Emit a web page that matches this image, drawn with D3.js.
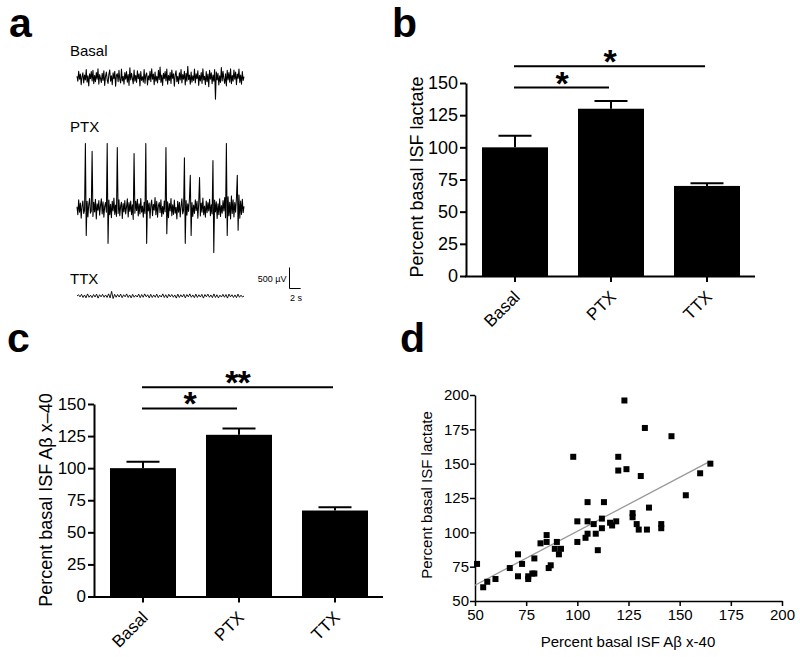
<!DOCTYPE html>
<html>
<head>
<meta charset="utf-8">
<script src="https://cdn.jsdelivr.net/npm/d3@7"></script>
<style>
  body { margin: 0; background: #fff; }
  svg { display: block; }
  text { font-family: "Liberation Sans", Arial, sans-serif; fill: #000; }
</style>
</head>
<body>
<svg id="fig" width="800" height="657"></svg>
<script>
// ---- data ----
const categories = ['Basal', 'PTX', 'TTX'];
const lactateMean = [100, 130, 70];
const lactateSem = [9, 6, 2];
const abetaMean = [100, 126, 67];
const abetaSem = [5, 5, 2.5];
const barTicks = [0, 25, 50, 75, 100, 125, 150];

// significance brackets: all vs Basal
const sigTargets = ['PTX', 'TTX'];
const sigLabelsB = ['*', '*'];
const sigLabelsC = ['*', '**'];

const scatterTicks = [50, 75, 100, 125, 150, 175, 200];
const scatterAbeta = [51,54,56,60,67,71,71,73,76,76,78,79,79,82,85,85,86,87,89,90,91,92,98,100,100,
  104,105,105,105,108,109,110,112,112,113,116,117,119,120,120,123,124,127,127,129,130,131,133,134,135,
  141,141,146,153,160,165];
const scatterLactate = [77,60,64,66,74,84,68,77,66,68,70,81,70,92,98,93,74,76,88,93,84,88,155,93,108,
  96,108,99,122,106,99,87,110,103,122,107,105,108,155,145,196,146,114,111,106,102,141,176,102,118,
  106,103,170,127,143,150];
const fitX = [50, 165];
const fitY = [61.5, 151.8];

// field potential traces, microvolts, evenly sampled over traceSeconds
const traceSeconds = 30;
const basalTrace = [
  30,-90,150,-40,80,-170,20,110,-130,60,
  -60,190,-110,40,-200,90,-30,140,-80,170,
  -150,50,-100,120,-40,210,-160,70,-20,-120,
  100,-70,160,-190,30,130,-60,-140,80,180,
  -90,40,-170,110,-30,150,-210,60,90,-100,
  170,-50,-130,200,-80,30,-160,120,-40,140,
  -110,70,-190,230,-60,100,-20,-150,180,-90,
  50,-120,160,-30,90,-200,140,-70,20,-110,
  190,-140,60,110,-180,40,-60,150,-100,210,
  -40,80,-170,130,-90,30,-130,170,-50,250,
  -120,60,-190,100,-30,140,-80,200,-160,50,
  -70,120,-140,180,-20,90,-210,60,160,-100,
  30,-150,110,-60,190,-130,70,-40,150,-180,
  100,-90,270,-50,60,-160,130,-110,40,-70,
  200,-130,90,-30,160,-190,50,-80,120,-140,
  210,-60,30,-170,140,-100,80,-220,170,-40,
  110,-150,60,-90,190,-520,130,-60,100,-180,
  40,-120,240,-80,150,-30,-140,90,-200,170,
  -60,120,-110,210,-150,50,-90,180,-40,130,
  -170,80,-20,200,-120,60,-160,140,-70,20];
const ptxTrace = [
  40,-150,210,-90,130,-230,60,180,-120,-40,
  1550,-640,170,-200,90,240,-110,-60,1360,-190,
  150,-80,220,-250,110,-40,190,-160,70,230,
  -130,160,-210,50,140,-90,1550,-830,200,-150,
  100,-220,170,-60,250,-140,80,-190,1450,-120,
  210,-170,60,150,-240,120,-80,190,-130,40,
  230,-200,140,-70,180,-150,90,-260,1310,-110,
  170,-50,220,-180,110,-130,240,-90,60,-210,
  150,-120,1550,-830,190,-60,130,-230,80,200,
  -170,100,-40,260,-150,170,-210,70,140,-100,
  210,-190,50,-130,180,-80,1450,-600,160,-220,
  120,-60,240,-170,90,-140,200,-110,30,-250,
  170,-90,150,-200,60,230,-130,-40,1210,-830,
  190,-160,110,-70,240,790,-640,140,-190,80,
  -120,210,-50,170,-230,100,740,-180,130,-90,
  250,-150,60,-210,180,-100,140,-60,220,-170,
  90,-130,1140,-1050,200,-80,160,-240,110,-150,
  230,-190,70,-110,190,-60,260,-220,1550,-640,
  280,-170,150,-250,300,-120,210,-200,140,-90,
  250,790,-520,320,-230,180,-140,220,-100,50];
const ttxTrace = [
  0,30,-20,40,-35,25,-45,50,-30,20,
  -40,35,-25,45,-50,30,-20,40,-30,25,
  -35,50,-45,110,-60,40,-30,35,-25,45,
  -40,30,-20,50,-35,25,-45,40,-30,20,
  -25,45,-40,35,-30,50,-20,30,-45,40,
  -35,25,-30,45,-40,20,-25,50,-35,30,
  -45,40,-20,35,-30,25,-50,45,-35,30,
  -25,40,-45,35,-20,50,-30,25,-40,45,
  -35,30,-25,40,-50,35,-20,45,-30,25,
  -40,50,-35,30,-45,20,-25,40,-30,35,
  -50,45,-20,30,-35,25,-40,45,-30,20,
  -25,0];
const traceNames = ['Basal', 'PTX', 'TTX'];

// ---- drawing ----
const svg = d3.select('#fig');
const FONT = '"Liberation Sans", Arial, sans-serif';

function panelLetter(txt, x, y) {
  svg.append('text').attr('x', x).attr('y', y)
    .attr('font-size', 41).attr('font-weight', 'bold').text(txt);
}

// panel a: traces
panelLetter('a', 9, 37);
const tScale = d3.scaleLinear().domain([0, traceSeconds]).range([77, 244]);
const uv = d3.scaleLinear().domain([0, 500]).range([0, 21]);
const traceCenters = [77.5, 208.5, 296];
const traceLabelY = [56, 131.5, 284];
[basalTrace, ptxTrace, ttxTrace].forEach((tr, k) => {
  const n = tr.length;
  const line = d3.line()
    .x((d, i) => tScale(i * traceSeconds / (n - 1)))
    .y(d => traceCenters[k] - uv(d));
  svg.append('path').datum(tr)
    .attr('d', line)
    .attr('fill', 'none')
    .attr('stroke', '#000')
    .attr('stroke-width', k === 2 ? 0.9 : 1.05)
    .attr('stroke-linejoin', 'round');
  svg.append('text').attr('x', 70).attr('y', traceLabelY[k])
    .attr('font-size', 15).text(traceNames[k]);
});
// scale bar 500 uV / 2 s
const sbX = 289.5, sbY = 288.5;
svg.append('path')
  .attr('d', `M${sbX},${sbY - uv(500)}V${sbY}H${sbX + tScale(2) - tScale(0)}`)
  .attr('fill', 'none').attr('stroke', '#000').attr('stroke-width', 1);
svg.append('text').attr('x', sbX - 3).attr('y', 281.5).attr('text-anchor', 'end')
  .attr('font-size', 9).text('500 \u00b5V');
svg.append('text').attr('x', sbX + 0.5).attr('y', 300.5)
  .attr('font-size', 9).text('2 s');

// bar chart helper
function barChart(opt) {
  const g = svg.append('g');
  const x = d3.scaleBand().domain(categories)
    .range([opt.x0 + 1, opt.x0 + 1 + 288])
    .paddingInner(0.3125).paddingOuter(0.15625);
  const y = d3.scaleLinear().domain([0, 150]).range([opt.y0, opt.y150]);

  g.selectAll('rect.bar').data(categories).enter().append('rect')
    .attr('x', d => x(d))
    .attr('y', (d, i) => y(opt.mean[i]))
    .attr('width', x.bandwidth())
    .attr('height', (d, i) => y(0) - y(opt.mean[i]))
    .attr('fill', '#000');

  // error bars (upper only)
  const cx = d => x(d) + x.bandwidth() / 2;
  g.selectAll('path.err').data(categories).enter().append('path')
    .attr('d', (d, i) => {
      const top = y(opt.mean[i] + opt.sem[i]);
      return `M${cx(d)},${y(opt.mean[i])}V${top}M${cx(d) - 16.5},${top}H${cx(d) + 16.5}`;
    })
    .attr('stroke', '#000').attr('stroke-width', 2).attr('fill', 'none');

  const yAxis = d3.axisLeft(y).tickValues(barTicks).tickSize(6).tickSizeOuter(0).tickPadding(2);
  const ya = g.append('g').attr('transform', `translate(${opt.x0},0)`).call(yAxis);
  ya.selectAll('text').attr('font-size', opt.tickFont).attr('font-family', FONT).attr('fill', '#000');

  const xAxis = d3.axisBottom(x).tickSize(6).tickSizeOuter(0).tickFormat('');
  const xa = g.append('g').attr('transform', `translate(0,${opt.y0})`).call(xAxis);
  [ya, xa].forEach(a => {
    a.select('.domain').attr('stroke', '#000').attr('stroke-width', 2);
    a.selectAll('line').attr('stroke', '#000').attr('stroke-width', 2);
  });
  xa.select('.domain').attr('d', `M${opt.x0 - 1},0.5H${opt.x0 + 289}`);

  // rotated category labels
  g.selectAll('text.cat').data(categories).enter().append('text')
    .attr('text-anchor', 'end')
    .attr('font-size', 17)
    .attr('transform', d => `translate(${cx(d) + 6},${opt.y0 + 22}) rotate(-45)`)
    .text(d => d);

  // y title
  g.append('text')
    .attr('transform', `translate(${opt.titleX},${opt.titleY}) rotate(-90)`)
    .attr('text-anchor', 'middle').attr('font-size', 18)
    .text(opt.title);

  // significance brackets
  const levels = [146.5, 163];
  sigTargets.forEach((t, k) => {
    const ly = y(levels[k]);
    const xs = cx('Basal') - 1, xe = cx(t) - 2;
    g.append('line').attr('x1', xs).attr('x2', xe).attr('y1', ly).attr('y2', ly)
      .attr('stroke', '#000').attr('stroke-width', 2);
    g.append('text').attr('x', (xs + xe) / 2).attr('y', ly + 7)
      .attr('text-anchor', 'middle').attr('font-size', 34).attr('font-weight', 'bold')
      .attr('letter-spacing', -1)
      .text(opt.sig[k]);
  });
}

panelLetter('b', 392, 37);
barChart({ x0: 466, y0: 276, y150: 83, mean: lactateMean, sem: lactateSem, tickFont: 18,
  title: 'Percent basal ISF lactate', titleX: 423, titleY: 177, sig: sigLabelsB });

panelLetter('c', 7, 352);
barChart({ x0: 94, y0: 596.5, y150: 404, mean: abetaMean, sem: abetaSem, tickFont: 17,
  title: 'Percent basal ISF A\u03b2 x\u201340', titleX: 52, titleY: 500, sig: sigLabelsC });

// panel d: scatter
panelLetter('d', 400, 352);
const sx = d3.scaleLinear().domain([50, 200]).range([475, 782]);
const sy = d3.scaleLinear().domain([50, 200]).range([601, 395]);
const gd = svg.append('g');
const dxAxis = gd.append('g').attr('transform', 'translate(0,601)')
  .call(d3.axisBottom(sx).tickValues(scatterTicks).tickSize(5).tickSizeOuter(0).tickPadding(3));
const dyAxis = gd.append('g').attr('transform', 'translate(475,0)')
  .call(d3.axisLeft(sy).tickValues(scatterTicks).tickSize(5).tickSizeOuter(0).tickPadding(1));
[dxAxis, dyAxis].forEach(a => {
  a.select('.domain').attr('stroke', '#000').attr('stroke-width', 1.5);
  a.selectAll('line').attr('stroke', '#000').attr('stroke-width', 1.5);
  a.selectAll('text').attr('font-size', 15).attr('font-family', FONT).attr('fill', '#000');
});

gd.append('path').datum(fitX.map((v, i) => [v, fitY[i]]))
  .attr('d', d3.line().x(d => sx(d[0])).y(d => sy(d[1])))
  .attr('stroke', '#999').attr('stroke-width', 1.3).attr('fill', 'none');

gd.selectAll('rect.pt').data(scatterAbeta).enter().append('rect')
  .attr('x', (d, i) => sx(d) - 3)
  .attr('y', (d, i) => sy(scatterLactate[i]) - 3)
  .attr('width', 6).attr('height', 6)
  .attr('fill', '#000');

gd.append('text').attr('x', 628).attr('y', 647).attr('text-anchor', 'middle')
  .attr('font-size', 15).text('Percent basal ISF A\u03b2 x-40');
gd.append('text').attr('transform', 'translate(432,495) rotate(-90)')
  .attr('text-anchor', 'middle').attr('font-size', 15).text('Percent basal ISF lactate');
</script>
</body>
</html>
